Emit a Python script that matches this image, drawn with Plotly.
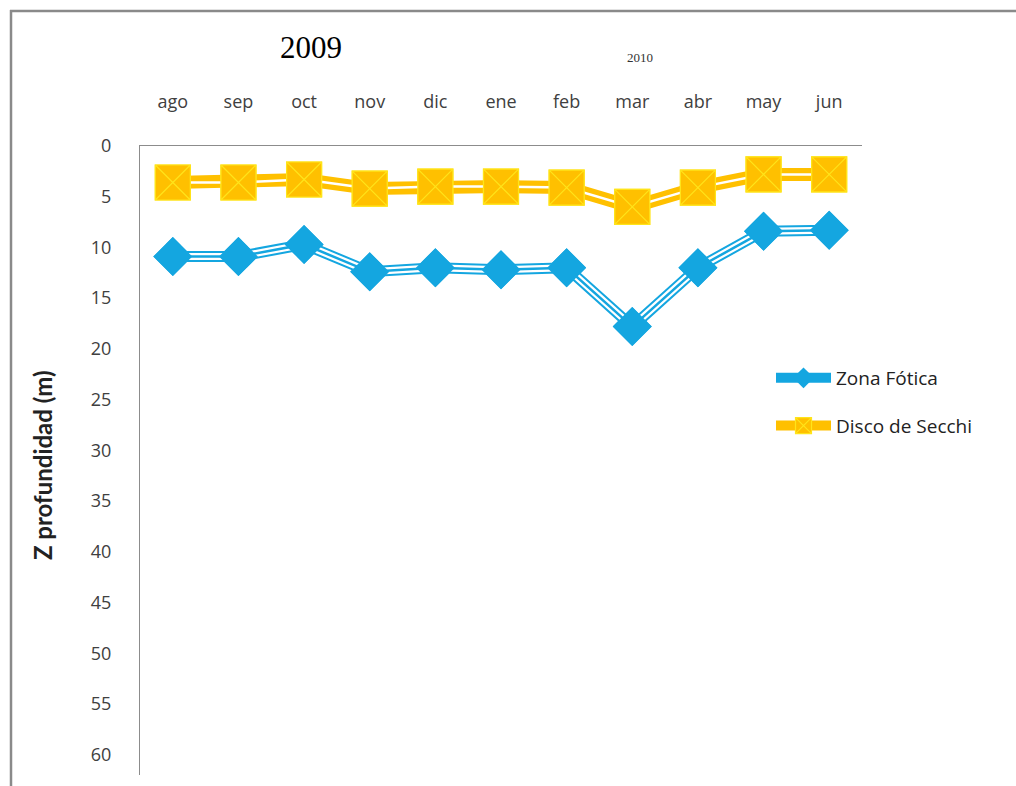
import plotly.graph_objects as go

# Monthly depth readings, Aug 2009 - Jun 2010
meses = ["ago", "sep", "oct", "nov", "dic", "ene", "feb", "mar", "abr", "may", "jun"]
zona_fotica = [10.9, 10.9, 9.7, 12.4, 12.0, 12.2, 12.0, 17.8, 12.0, 8.4, 8.3]
disco_secchi = [3.6, 3.6, 3.3, 4.2, 4.0, 4.0, 4.1, 6.0, 4.1, 2.8, 2.8]
y_ticks = list(range(0, 61, 5))

AZUL = "#14A6E0"
NARANJA = "#FFC000"
AMARILLO = "#FFE41A"
FONT = "Open Sans"

W, H = 1016, 786
L, R, T, B = 140, 862, 146, 775  # plot area in pixels

fig = go.Figure()

# Zona Fótica: compound line (blue / white / blue) with diamond markers
fig.add_trace(go.Scatter(
    x=meses, y=zona_fotica, name="Zona Fótica", mode="lines+markers",
    line=dict(color=AZUL, width=11),
    marker=dict(symbol="diamond", size=30, color=AZUL, line=dict(width=0)),
    legendgroup="zf", showlegend=True))
fig.add_trace(go.Scatter(
    x=meses, y=zona_fotica, mode="lines", line=dict(color="white", width=7),
    legendgroup="zf", showlegend=False, hoverinfo="skip"))
fig.add_trace(go.Scatter(
    x=meses, y=zona_fotica, mode="lines", line=dict(color=AZUL, width=2.5),
    legendgroup="zf", showlegend=False, hoverinfo="skip"))
fig.add_trace(go.Scatter(
    x=meses, y=zona_fotica, mode="markers",
    marker=dict(symbol="diamond", size=30, color=AZUL, line=dict(width=0)),
    legendgroup="zf", showlegend=False))

# Disco de Secchi: thick orange line with a thin white stripe, square-x markers
fig.add_trace(go.Scatter(
    x=meses, y=disco_secchi, name="Disco de Secchi", mode="lines+markers",
    line=dict(color=NARANJA, width=13),
    marker=dict(symbol="square-x", size=35, color=NARANJA,
                line=dict(color=AMARILLO, width=1.2)),
    legendgroup="ds", showlegend=True))
fig.add_trace(go.Scatter(
    x=meses, y=disco_secchi, mode="lines", line=dict(color="white", width=2.5),
    legendgroup="ds", showlegend=False, hoverinfo="skip"))
fig.add_trace(go.Scatter(
    x=meses, y=disco_secchi, mode="markers",
    marker=dict(symbol="square-x", size=35, color=NARANJA,
                line=dict(color=AMARILLO, width=1.2)),
    legendgroup="ds", showlegend=False))


def px_x(px):
    return (px - L) / (R - L)


def px_y(py):
    return (B - py) / (B - T)


fig.update_layout(
    width=W, height=H,
    margin=dict(l=L, r=W - R, t=T, b=H - B),
    paper_bgcolor="white", plot_bgcolor="white",
    font=dict(family=FONT, color="#404040"),
    xaxis=dict(
        type="category", side="top", range=[-0.5, len(meses) - 0.5],
        showline=True, linecolor="#8C8C8C", linewidth=1.2, mirror=False,
        showgrid=False, zeroline=False, ticks="",
        ticklabelstandoff=30,
        tickfont=dict(family=FONT, size=18, color="#404040"),
    ),
    yaxis=dict(
        range=[62, 0], tickvals=y_ticks, ticktext=[str(v) for v in y_ticks],
        showline=True, linecolor="#8C8C8C", linewidth=1.2,
        showgrid=False, zeroline=False, ticks="",
        ticklabelstandoff=24,
        tickfont=dict(family=FONT, size=18, color="#404040"),
    ),
    legend=dict(
        x=px_x(771), y=px_y(359), xanchor="left", yanchor="top",
        bgcolor="rgba(0,0,0,0)", tracegroupgap=20,
        font=dict(family=FONT, size=19, color="#222222"),
        itemwidth=55,
    ),
    annotations=[
        dict(text="Z profundidad (m)", textangle=-90, showarrow=False,
             xref="paper", yref="paper", x=px_x(42), y=px_y(465),
             xanchor="center", yanchor="middle",
             font=dict(family="Lato", size=24, color="#222222", weight="bold")),
        dict(text="2009", showarrow=False, xref="paper", yref="paper",
             x=px_x(311), y=px_y(48), xanchor="center", yanchor="middle",
             font=dict(family="Liberation Serif", size=31, color="#000000")),
        dict(text="2010", showarrow=False, xref="paper", yref="paper",
             x=px_x(640), y=px_y(58), xanchor="center", yanchor="middle",
             font=dict(family="Liberation Serif", size=13, color="#333333")),
    ],
    shapes=[
        dict(type="line", xref="paper", yref="paper",
             x0=px_x(11), y0=px_y(H + 2), x1=px_x(11), y1=px_y(10),
             line=dict(color="#8A8A8A", width=2.5)),
        dict(type="line", xref="paper", yref="paper",
             x0=px_x(10), y0=px_y(11), x1=px_x(W + 2), y1=px_y(11),
             line=dict(color="#8A8A8A", width=2.5)),
    ],
)

fig.write_html("out.html")
